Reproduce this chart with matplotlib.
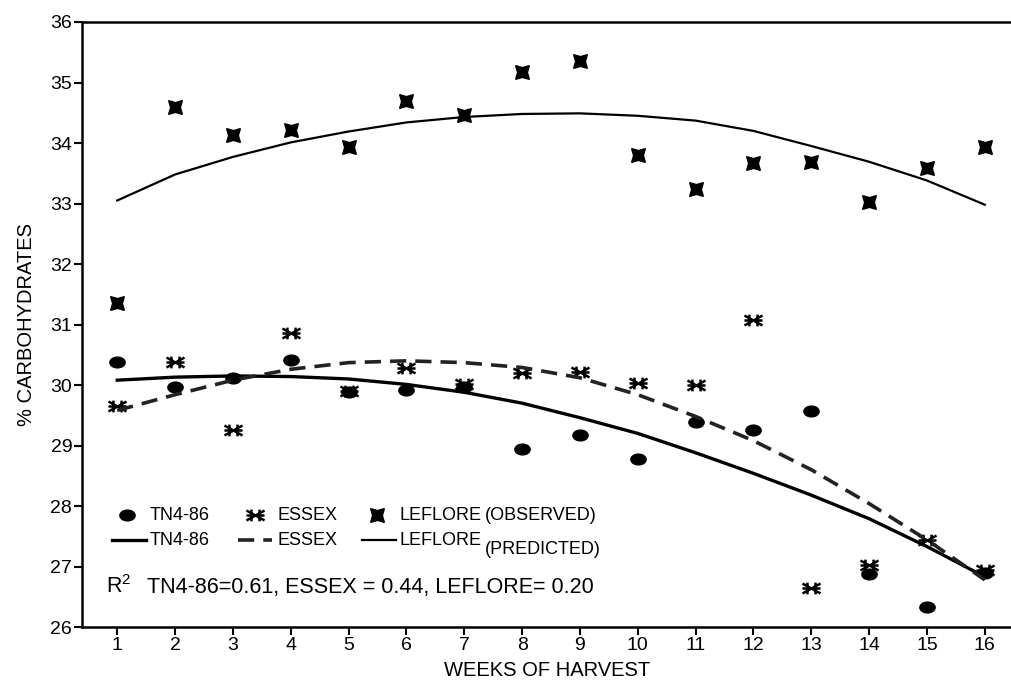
import matplotlib.pyplot as plt
import numpy as np
from matplotlib.path import Path

plt.rcParams["font.family"] = ["Liberation Sans", "DejaVu Sans"]

# Weeks of harvest
weeks = np.arange(1, 17)

# Observed % carbohydrates
tn_obs = [30.38, 29.97, 30.12, 30.41, 29.88, 29.92, 29.96, 28.94,
          29.17, 28.78, 29.39, 29.26, 29.57, 26.88, 26.33, 26.90]
essex_obs = [29.65, 30.38, 29.26, 30.86, 29.90, 30.28, 30.02, 30.20,
             30.22, 30.04, 30.00, 31.08, 26.64, 27.03, 27.44, 26.95]
leflore_obs = [31.36, 34.60, 34.14, 34.22, 33.94, 34.70, 34.46, 35.18,
               35.36, 33.80, 33.24, 33.67, 33.68, 33.02, 33.58, 33.93]

# Predicted (fitted curves, read at each week)
tn_pred = [30.08, 30.13, 30.15, 30.14, 30.10, 30.01, 29.88, 29.70,
           29.46, 29.20, 28.88, 28.54, 28.18, 27.79, 27.33, 26.83]
essex_pred = [29.58, 29.84, 30.08, 30.26, 30.37, 30.40, 30.37, 30.29,
              30.12, 29.84, 29.48, 29.08, 28.60, 28.04, 27.44, 26.78]
leflore_pred = [33.05, 33.48, 33.77, 34.01, 34.19, 34.34, 34.43, 34.48,
                34.49, 34.45, 34.37, 34.20, 33.95, 33.69, 33.38, 32.98]

r2_text = "TN4-86=0.61, ESSEX = 0.44, LEFLORE= 0.20"

# flat oval dot for TN4-86
_c = Path.unit_circle()
oval = Path(_c.vertices * [1.35, 0.95], _c.codes)
# squashed asterisk for ESSEX
essex_mk = Path(
    [(-1, 0.55), (1, -0.55), (-1, -0.55), (1, 0.55), (-1, 0), (1, 0),
     (-0.45, 0.65), (-0.45, -0.65), (0.45, 0.65), (0.45, -0.65)],
    [Path.MOVETO, Path.LINETO] * 5,
)
bowtie = (4, 1, 45)


def draw_chart():
    fig = plt.figure(figsize=(10.12, 6.94), dpi=100)
    ax = fig.add_axes([0.081, 0.0965, 0.919, 0.8718])

    # Observed points
    ax.plot(weeks, leflore_obs, linestyle="none", marker=bowtie,
            markersize=14, color="black", markeredgewidth=1)
    ax.plot(weeks, tn_obs, linestyle="none", marker=oval, markersize=11,
            color="black")
    ax.plot(weeks, essex_obs, linestyle="none", marker=essex_mk,
            markersize=13, color="black", markeredgewidth=1.8,
            markerfacecolor="none")

    # Predicted curves
    ax.plot(weeks, tn_pred, color="black", linewidth=2.4)
    ax.plot(weeks, essex_pred, color="#222222", linewidth=2.6,
            dashes=(4.5, 2.5))
    ax.plot(weeks, leflore_pred, color="black", linewidth=1.6)

    ax.set_xlim(0.39, 16.47)
    ax.set_ylim(26, 36)
    ax.set_xticks(weeks)
    ax.set_yticks(np.arange(26, 37, 1))
    ax.tick_params(axis="both", direction="out", length=6, width=1.5,
                   labelsize=14, pad=1)
    ax.spines["right"].set_visible(False)
    for side in ("left", "top", "bottom"):
        ax.spines[side].set_linewidth(1.8)

    ax.set_xlabel("WEEKS OF HARVEST", fontsize=14.5, labelpad=5)
    ax.set_ylabel("% CARBOHYDRATES", fontsize=14.5, labelpad=10)

    # Hand-made legend block
    tr = ax.transAxes
    fs = 13

    def fx(px):
        return (px - 82) / 930.0

    def fy(py):
        return (627 - py) / 605.0

    y1, y2, y3 = fy(515), fy(540), fy(587)
    ax.plot([fx(127)], [y1], marker=oval, markersize=11, color="black",
            transform=tr, clip_on=False)
    ax.plot([fx(255)], [y1], marker=essex_mk, markersize=13, color="black",
            markeredgewidth=1.8, markerfacecolor="none", transform=tr,
            clip_on=False)
    ax.plot([fx(377)], [y1], marker=bowtie, markersize=14, color="black",
            transform=tr, clip_on=False)
    for px, label in ((150, "TN4-86"), (278, "ESSEX"), (400, "LEFLORE")):
        ax.text(fx(px), y1, label, fontsize=fs, va="center", transform=tr)
        ax.text(fx(px), y2, label, fontsize=fs, va="center", transform=tr)
    ax.text(fx(485), y1, "(OBSERVED)", fontsize=fs, va="center", transform=tr)
    ax.text(fx(485), fy(549), "(PREDICTED)", fontsize=fs, va="center",
            transform=tr)

    ax.plot([fx(112), fx(146)], [y2, y2], color="black", linewidth=2.4,
            transform=tr, clip_on=False)
    ax.plot([fx(238), fx(272)], [y2, y2], color="#222222", linewidth=2.6,
            dashes=(4.5, 2.5), transform=tr, clip_on=False)
    ax.plot([fx(362), fx(396)], [y2, y2], color="black", linewidth=1.6,
            transform=tr, clip_on=False)

    ax.text(fx(106), y3, r"R$^{\mathregular{2}}$", fontsize=15.5, va="center",
            transform=tr)
    ax.text(fx(147), y3, r2_text, fontsize=15.5, va="center", transform=tr)

    fig.savefig("out.png", dpi=100)
    plt.close(fig)


draw_chart()
